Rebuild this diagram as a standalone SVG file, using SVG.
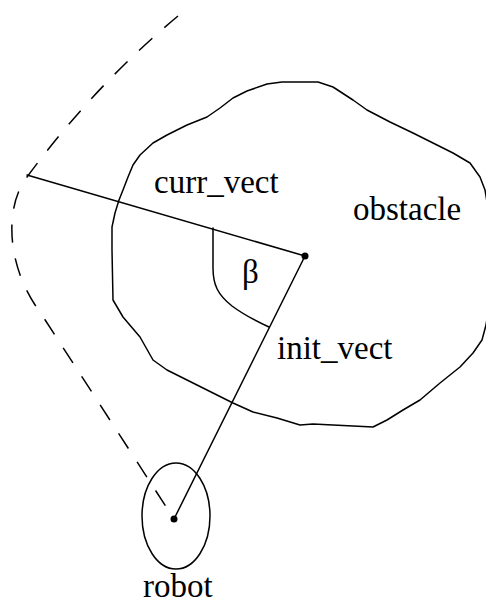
<svg xmlns="http://www.w3.org/2000/svg" width="486" height="605" viewBox="0 0 486 605">
<style>
.ln{fill:none;stroke:#000;stroke-width:1.5;stroke-linejoin:round;stroke-linecap:round}
.dash{stroke-dasharray:18 16;stroke-linecap:butt}
.lbl{font-family:"Liberation Serif","Times New Roman",serif;font-size:33px;fill:#000}
.dot{fill:#000}
</style>
<rect width="486" height="605" fill="#fff"/>
<g id="obstacle">
<path class="ln" d="M267,84 L282,82 L318,82 L333,87 L353,100 L367,110 L390,122 L413,133 L433,143 L453,153 L470,163 L480,177 L485,190 L490,220 L492,260 L490,300 L486,325 L482,340 L473,353 L460,367 L440,383 L420,400 L403,410 L387,420 L373,427 L313,424 L300,425 L277,418 L253,412 L233,403 L213,393 L187,380 L167,370 L153,360 L140,337 L123,317 L113,300 L112,250 L112,227 L115,213 L119,200 L123,190 L128,177 L133,165 L140,155 L153,143 L167,135 L187,125 L207,117 L220,108 L233,98 L247,91 Z"/>
<text class="lbl" x="353" y="220">obstacle</text>
</g>
<g id="robot">
<ellipse class="ln" cx="176" cy="516" rx="34" ry="53"/>
<circle class="dot" cx="174" cy="519" r="3.5"/>
<text class="lbl" x="143" y="597">robot</text>
</g>
<g id="center">
<circle class="dot" cx="305" cy="256" r="3.5"/>
</g>
<g id="connectors">
<path class="ln dash" d="M178,16 Q95,85 27,177 C5,205 5,265 40,312 L174,519"/>
<line class="ln" x1="27" y1="175" x2="305" y2="256"/>
<line class="ln" x1="305" y1="256" x2="174" y2="519"/>
<path class="ln" d="M213,228 L213,268 C213,285 218,295 232,306 C244,315 256,321 269,327"/>
</g>
<g id="labels">
<text class="lbl" x="154" y="193">curr_vect</text>
<text class="lbl" x="277" y="359">init_vect</text>
<text class="lbl" x="242" y="283">β</text>
</g>
</svg>
